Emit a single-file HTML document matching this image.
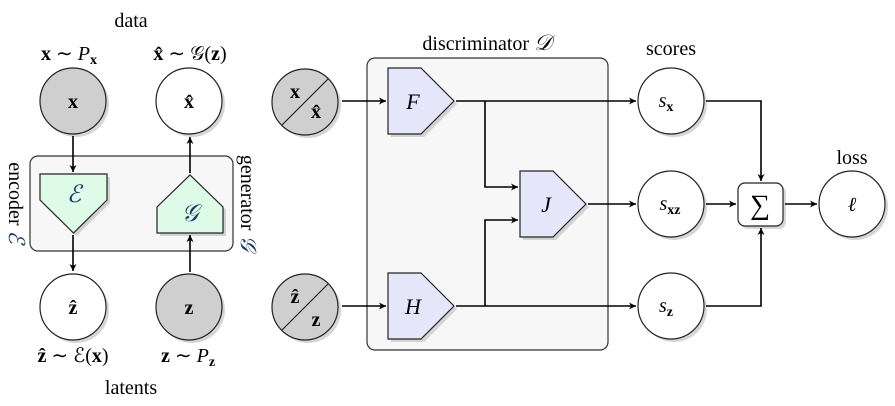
<!DOCTYPE html>
<html><head><style>body{margin:0;background:#fff}svg{display:block}</style></head><body>
<svg width="895" height="406" viewBox="0 0 895 406" xmlns="http://www.w3.org/2000/svg" font-family="'Liberation Serif', serif">
<defs>
<marker id="a" markerWidth="10" markerHeight="10" refX="8" refY="5" orient="auto" markerUnits="userSpaceOnUse"><path d="M1,1.5 L8,5 L1,8.5 L3,5 Z" fill="#000"/></marker>
</defs>
<g fill="#f7f7f7" stroke="#333" stroke-width="1.2">
<rect x="30" y="156" width="203" height="95" rx="8"/>
<rect x="367" y="58" width="241" height="292" rx="8"/>
</g>
<g fill="#bbb" opacity="0.6" transform="translate(3,3)">
<path d="M40,174 H107 V200 L73.5,233 L40,200 Z"/>
<path d="M157,233 V207 L190,175 L223,207 V233 Z"/>
<path d="M388,68 H421 L454,101 L421,134 H388 Z"/>
<path d="M520,171 H553 L586,204 L553,237 H520 Z"/>
<path d="M388,273 H421 L454,306 L421,339 H388 Z"/>
<circle cx="73" cy="101" r="33"/><circle cx="189" cy="101" r="33"/>
<circle cx="73" cy="307" r="33"/><circle cx="189" cy="307" r="33"/>
<circle cx="305" cy="102" r="33"/><circle cx="305" cy="307" r="33"/>
<circle cx="671" cy="101" r="33"/><circle cx="671" cy="204" r="33"/><circle cx="671" cy="306" r="33"/>
<circle cx="852" cy="204" r="33"/><rect x="738" y="183" width="45" height="43" rx="7"/>
</g>
<g stroke="#222" stroke-width="1.2">
<path d="M40,174 H107 V200 L73.5,233 L40,200 Z" fill="#ddfbe6"/>
<path d="M157,233 V207 L190,175 L223,207 V233 Z" fill="#ddfbe6"/>
<path d="M388,68 H421 L454,101 L421,134 H388 Z" fill="#e6e6fa"/>
<path d="M520,171 H553 L586,204 L553,237 H520 Z" fill="#e6e6fa"/>
<path d="M388,273 H421 L454,306 L421,339 H388 Z" fill="#e6e6fa"/>
<circle cx="73" cy="101" r="33" fill="#cfcfcf"/><circle cx="189" cy="101" r="33" fill="#fff"/>
<circle cx="73" cy="307" r="33" fill="#fff"/><circle cx="189" cy="307" r="33" fill="#cfcfcf"/>
<circle cx="305" cy="102" r="33" fill="#cfcfcf"/><circle cx="305" cy="307" r="33" fill="#cfcfcf"/>
<line x1="282" y1="125" x2="328" y2="79"/><line x1="282" y1="330" x2="328" y2="284"/>
<circle cx="671" cy="101" r="33" fill="#fff"/><circle cx="671" cy="204" r="33" fill="#fff"/><circle cx="671" cy="306" r="33" fill="#fff"/>
<circle cx="852" cy="204" r="33" fill="#fff"/><rect x="738" y="183" width="45" height="43" rx="7" fill="#fff"/>
</g>
<g stroke="#000" stroke-width="1.6" fill="none" marker-end="url(#a)">
<line x1="73" y1="136" x2="73" y2="172"/>
<line x1="73" y1="235" x2="73" y2="271"/>
<line x1="190" y1="272" x2="190" y2="235"/>
<line x1="190" y1="173" x2="190" y2="137"/>
<line x1="342" y1="101" x2="386" y2="101"/>
<line x1="342" y1="306" x2="386" y2="306"/>
<line x1="456" y1="101" x2="636" y2="101"/>
<path d="M485,101 V187 H518"/>
<path d="M456,306 H636"/>
<path d="M485,306 V220 H518"/>
<line x1="588" y1="204" x2="636" y2="204"/>
<path d="M706,101 H761 V181"/>
<path d="M706,306 H761 V228"/>
<line x1="706" y1="204" x2="736" y2="204"/>
<line x1="785" y1="204" x2="817" y2="204"/>
</g>
<g font-size="20" text-anchor="middle" fill="#000">
<text x="131" y="27">data</text>
<text x="131" y="394">latents</text>
<text x="487" y="50">discriminator <tspan font-style="italic" font-size="22">𝒟</tspan></text>
<text x="671" y="55">scores</text>
<text x="852" y="164">loss</text>
<text x="69" y="60"><tspan font-weight="bold">x</tspan> ∼ <tspan font-style="italic">P</tspan><tspan font-size="14" font-weight="bold" dy="4">x</tspan></text>
<text x="190" y="60"><tspan font-weight="bold">x̂</tspan> ∼ 𝒢(<tspan font-weight="bold">z</tspan>)</text>
<text x="73" y="362"><tspan font-weight="bold">ẑ</tspan> ∼ ℰ(<tspan font-weight="bold">x</tspan>)</text>
<text x="188" y="362"><tspan font-weight="bold">z</tspan> ∼ <tspan font-style="italic">P</tspan><tspan font-size="14" font-weight="bold" dy="4">z</tspan></text>
<text x="73" y="108" font-weight="bold">x</text>
<text x="189" y="108" font-weight="bold">x̂</text>
<text x="73" y="314" font-weight="bold">ẑ</text>
<text x="189" y="314" font-weight="bold">z</text>
<text x="295" y="98" font-weight="bold">x</text>
<text x="316" y="118" font-weight="bold">x̂</text>
<text x="295" y="303" font-weight="bold">ẑ</text>
<text x="316" y="326" font-weight="bold">z</text>
<text x="74" y="202" font-style="italic" font-size="24" fill="#1a3a6a">ℰ</text>
<text x="190" y="221" font-style="italic" font-size="24" fill="#1a3a6a">𝒢</text>
<text x="413" y="109" font-style="italic" font-size="22">F</text>
<text x="546" y="212" font-style="italic" font-size="22">J</text>
<text x="413" y="314" font-style="italic" font-size="22">H</text>
<text x="666" y="107" font-style="italic">s<tspan font-size="14" font-weight="bold" font-style="normal" dy="4">x</tspan></text>
<text x="670" y="210" font-style="italic">s<tspan font-size="14" font-weight="bold" font-style="normal" dy="4">xz</tspan></text>
<text x="666" y="312" font-style="italic">s<tspan font-size="14" font-weight="bold" font-style="normal" dy="4">z</tspan></text>
<text x="760" y="214" font-size="28">∑</text>
<text x="852" y="211" font-style="italic">ℓ</text>
<text transform="translate(9,203) rotate(90)">encoder <tspan font-style="italic" font-size="22" fill="#1a3a6a">ℰ</tspan></text>
<text transform="translate(241,203) rotate(90)">generator <tspan font-style="italic" font-size="22" fill="#1a3a6a">𝒢</tspan></text>
</g>
</svg>
</body></html>
